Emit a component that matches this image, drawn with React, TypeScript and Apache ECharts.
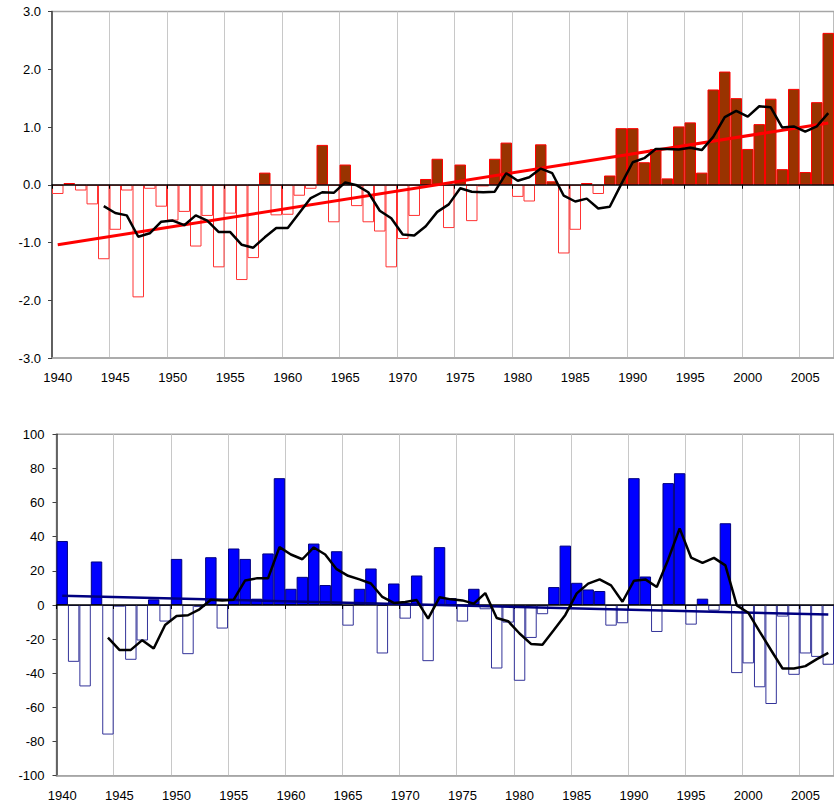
import React, { useEffect, useRef } from 'react';
import * as echarts from 'echarts';

const years: string[] = Array.from({ length: 68 }, (_, i) => String(1940 + i));

// Top panel: annual anomaly (1940-2007)
const tempValues = [
  -0.16, 0.03, -0.10, -0.34, -1.29,
  -0.78, -0.10, -1.95, -0.07, -0.38,
  -0.62, -0.47, -1.07, -0.54, -1.43,
  -0.50, -1.65, -1.27, 0.21, -0.53,
  -0.52, -0.19, -0.07, 0.69, -0.65,
  0.35, -0.37, -0.65, -0.81, -1.43,
  -0.94, -0.54, 0.10, 0.45, -0.75,
  0.35, -0.63, -0.03, 0.45, 0.73,
  -0.21, -0.29, 0.70, 0.06, -1.19,
  -0.78, 0.03, -0.16, 0.16, 0.98,
  0.98, 0.39, 0.62, 0.11, 1.01,
  1.08, 0.21, 1.65, 1.96, 1.50,
  0.62, 1.05, 1.49, 0.27, 1.66,
  0.22, 1.43, 2.63,
];

// Top panel: smoothed curve, 1944-2007
const tempSmooth = [
  -0.37, -0.49, -0.53, -0.90, -0.84,
  -0.64, -0.62, -0.70, -0.53, -0.62,
  -0.82, -0.82, -1.04, -1.09, -0.91,
  -0.75, -0.75, -0.49, -0.23, -0.13,
  -0.14, 0.04, -0.01, -0.13, -0.45,
  -0.58, -0.86, -0.88, -0.72, -0.47,
  -0.34, -0.06, -0.12, -0.13, -0.12,
  0.20, 0.07, 0.13, 0.28, 0.20,
  -0.19, -0.29, -0.24, -0.41, -0.38,
  0.01, 0.39, 0.46, 0.62, 0.62,
  0.61, 0.64, 0.60, 0.83, 1.17,
  1.28, 1.18, 1.36, 1.34, 0.99,
  1.01, 0.92, 1.01, 1.24,
];

const tempTrendEnds = [-1.04, 1.07];

// Bottom panel: annual values (1940-2007)
const precValues = [
  37.5, -33.3, -47.7, 25.5, -75.9,
  -1.0, -32.1, -20.8, 3.3, -9.7,
  27.0, -28.8, -1.2, 28.0, -13.8,
  33.1, 27.0, 3.7, 30.2, 74.3,
  9.5, 16.5, 36.0, 11.7, 31.5,
  -12.1, 9.5, 21.4, -28.4, 12.6,
  -8.0, 17.3, -32.9, 33.9, 4.0,
  -9.7, 9.5, -2.5, -37.2, -10.3,
  -44.4, -19.3, -5.4, 10.5, 34.8,
  13.0, 9.1, 8.2, -12.1, -10.7,
  74.3, 16.7, -15.8, 71.4, 77.2,
  -11.5, 3.7, -3.3, 47.9, -39.9,
  -34.2, -48.2, -58.0, -6.8, -40.9,
  -28.4, -30.4, -35.0,
];

// Bottom panel: smoothed curve, 1944-2007
const precSmooth = [
  -19.1, -26.3, -26.3, -20.6, -25.5,
  -11.7, -6.4, -6.0, -2.5, 3.1,
  2.7, 3.1, 14.4, 15.6, 15.6,
  33.9, 29.6, 26.8, 33.7, 29.6,
  21.0, 17.1, 15.0, 12.6, 4.7,
  1.2, 1.8, 2.9, -8.0, 4.5,
  3.3, 2.7, 0.8, 7.0, -7.6,
  -9.5, -16.7, -22.8, -23.3, -14.6,
  -5.8, 6.8, 12.5, 15.0, 11.5,
  1.9, 14.2, 15.0, 10.5, 26.7,
  44.9, 27.8, 24.7, 27.6, 23.2,
  -0.2, -4.5, -15.6, -26.5, -37.2,
  -37.2, -35.8, -31.7, -28.0,
];

const precTrendEnds = [5.4, -5.6];

const smoothStart = 4; // curve begins at 1944

const font = {
  fontFamily: '"Liberation Sans", Arial, sans-serif',
  fontSize: 13,
  color: '#000',
};

function barData(vals: number[], posFill: string, posBorder: string, negFill: string, negBorder: string) {
  return vals.map((v) => ({
    value: v,
    itemStyle: v >= 0
      ? { color: posFill, borderColor: posBorder }
      : { color: negFill, borderColor: negBorder },
  }));
}

function padSmooth(vals: number[]) {
  const out: (number | null)[] = [];
  for (let i = 0; i < smoothStart; i++) out.push(null);
  return out.concat(vals);
}

function xAxes(gridIndex: number) {
  return [
    {
      gridIndex,
      type: 'category',
      data: years,
      position: 'bottom',
      boundaryGap: true,
      axisLine: { onZero: false, lineStyle: { color: '#a6a6a6', width: 1.5 } },
      axisTick: { show: false },
      axisLabel: { interval: 4, margin: 13, ...font },
      splitLine: { show: true, interval: 4, lineStyle: { color: '#c8c8c8', width: 1 } },
    },
    {
      gridIndex,
      type: 'category',
      data: years,
      position: 'top',
      boundaryGap: true,
      z: 3,
      axisLine: { onZero: true, lineStyle: { color: '#000', width: 1.5 } },
      axisTick: { show: true, inside: true, interval: 4, length: 4, lineStyle: { color: '#000', width: 1 } },
      axisLabel: { show: false },
      splitLine: { show: false },
    },
  ];
}

function yAxis(gridIndex: number, min: number, max: number, interval: number, fmt: (v: number) => string, margin: number) {
  return {
    gridIndex,
    type: 'value',
    min,
    max,
    interval,
    axisLine: { show: true, onZero: false, lineStyle: { color: '#404040', width: 1.5 } },
    axisTick: { show: true, length: 4, lineStyle: { color: '#404040', width: 1 } },
    axisLabel: { formatter: fmt, margin, ...font },
    splitLine: { show: false },
  };
}

const option = {
  animation: false,
  backgroundColor: '#fff',
  grid: [
    { left: 52, top: 11.5, width: 788.5, height: 346.5, show: true, borderColor: '#a6a6a6', borderWidth: 1.5 },
    { left: 56.5, top: 434.3, width: 784, height: 341.4, show: true, borderColor: '#a6a6a6', borderWidth: 1.5 },
  ],
  xAxis: [...xAxes(0), ...xAxes(1)],
  yAxis: [
    yAxis(0, -3, 3, 1, (v: number) => v.toFixed(1), 11),
    yAxis(1, -100, 100, 20, (v: number) => String(v), 12),
  ],
  series: [
    {
      type: 'bar',
      xAxisIndex: 0,
      yAxisIndex: 0,
      barCategoryGap: '0%',
      itemStyle: { borderWidth: 1 },
      data: barData(tempValues, '#993300', '#ff0000', '#ffffff', '#ff3333'),
      z: 2,
    },
    {
      type: 'line',
      xAxisIndex: 0,
      yAxisIndex: 0,
      symbol: 'none',
      lineStyle: { color: '#ff0000', width: 3 },
      data: [[years[0], tempTrendEnds[0]], [years[years.length - 1], tempTrendEnds[1]]],
      z: 4,
    },
    {
      type: 'line',
      xAxisIndex: 0,
      yAxisIndex: 0,
      symbol: 'none',
      lineStyle: { color: '#000', width: 2.5 },
      data: padSmooth(tempSmooth),
      z: 5,
    },
    {
      type: 'bar',
      xAxisIndex: 2,
      yAxisIndex: 1,
      barCategoryGap: '0%',
      itemStyle: { borderWidth: 1 },
      data: barData(precValues, '#0000ff', '#000080', '#ffffff', '#333399'),
      z: 2,
    },
    {
      type: 'line',
      xAxisIndex: 2,
      yAxisIndex: 1,
      symbol: 'none',
      lineStyle: { color: '#000080', width: 2.5 },
      data: [[years[0], precTrendEnds[0]], [years[years.length - 1], precTrendEnds[1]]],
      z: 4,
    },
    {
      type: 'line',
      xAxisIndex: 2,
      yAxisIndex: 1,
      symbol: 'none',
      lineStyle: { color: '#000', width: 2.5 },
      data: padSmooth(precSmooth),
      z: 5,
    },
  ],
};

export default function App() {
  const ref = useRef<HTMLDivElement>(null);
  useEffect(() => {
    if (!ref.current) return;
    const chart = echarts.init(ref.current, null, { renderer: 'svg' });
    chart.setOption(option as any);
    return () => chart.dispose();
  }, []);
  return (
    <div
      ref={ref}
      style={{ position: 'absolute', left: 0, top: 0, width: 834, height: 803, background: '#fff' }}
    />
  );
}
